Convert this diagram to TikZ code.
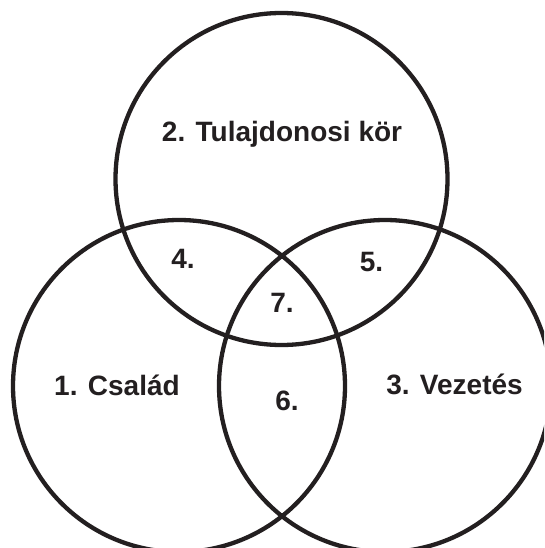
\documentclass[tikz,border=0pt]{standalone}
\usepackage{fontspec}
\setmainfont{Liberation Sans}
\definecolor{ink}{HTML}{231F20}
\begin{document}
\begin{tikzpicture}[x=1pt,y=-1pt,
  ring/.style={draw=ink,line width=4.3pt},
  lbl/.style={text=ink,font=\fontsize{28}{32}\selectfont\bfseries,inner sep=0pt}]
\useasboundingbox (0,0) rectangle (544,548);
\begin{scope}
\clip (0,0) rectangle (544,548);
\coordinate (ctop) at (281.5,179);
\coordinate (cleft) at (179,386);
\coordinate (cright) at (385,386);
\draw[ring] (ctop) circle (166);
\draw[ring] (cleft) circle (166);
\draw[ring] (cright) circle (166);
\end{scope}
\node[lbl] (t2) at (282,134) {2. Tulajdonosi kör};
\node[lbl] (t4) at (183,259) {4.};
\node[lbl] (t5) at (371.5,262) {5.};
\node[lbl] (t7) at (282,303) {7.};
\node[lbl] (t1) at (117,385) {1. Család};
\node[lbl] (t6) at (287,401) {6.};
\node[lbl] (t3) at (454.5,384) {3. Vezetés};
\end{tikzpicture}
\end{document}
